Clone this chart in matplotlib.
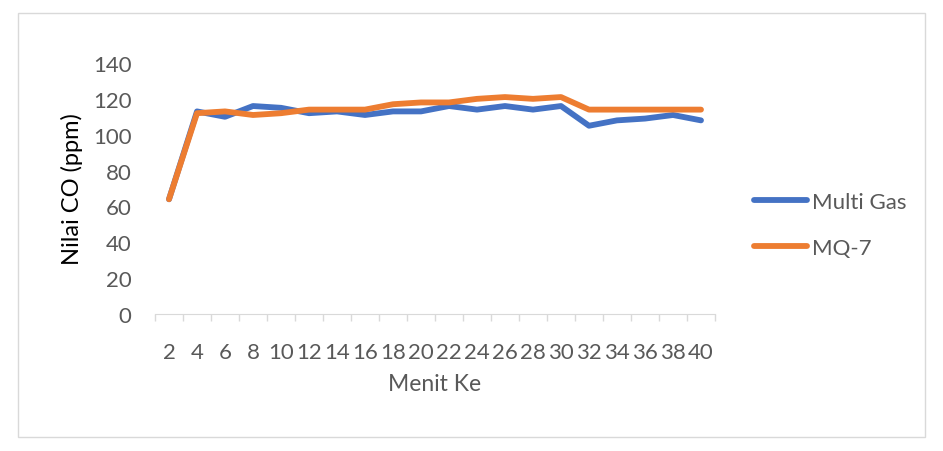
import matplotlib
matplotlib.use("Agg")
import matplotlib.pyplot as plt
from matplotlib.patches import Rectangle
from matplotlib.lines import Line2D
import numpy as np

plt.rcParams['font.family'] = ['Lato', 'DejaVu Sans']

minutes = ["2", "4", "6", "8", "10", "12", "14", "16", "18", "20",
           "22", "24", "26", "28", "30", "32", "34", "36", "38", "40"]
multi_gas = [64, 113, 110, 116, 115, 112, 113, 111, 113, 113,
             116, 114, 116, 114, 116, 105, 108, 109, 111, 108]
mq7 = [64, 112, 113, 111, 112, 114, 114, 114, 117, 118,
       118, 120, 121, 120, 121, 114, 114, 114, 114, 114]
y_ticks = [0, 20, 40, 60, 80, 100, 120, 140]

blue = "#4472C4"
orange = "#ED7D31"
gray_text = "#595959"
lw = 4.2

fig = plt.figure(figsize=(9.43, 4.52), dpi=100)
fig.patches.append(Rectangle((18/943, 14/452), 907/943, 424/452, transform=fig.transFigure,
                             fill=False, edgecolor="#d9d9d9", linewidth=1))

ax = fig.add_axes([155/943, (452-315)/452, 560/943, 251/452])
x = np.arange(len(minutes))
ax.plot(x, multi_gas, color=blue, linewidth=lw, solid_capstyle="round", solid_joinstyle="round")
ax.plot(x, mq7, color=orange, linewidth=lw, solid_capstyle="round", solid_joinstyle="round")

ax.set_xlim(-0.5, len(minutes) - 0.5)
ax.set_ylim(0, 140)
ax.set_yticks(y_ticks)
ax.set_xticks(x)
ax.set_xticklabels(minutes)
ax.set_xticks(np.arange(len(minutes) + 1) - 0.5, minor=True)
ax.tick_params(axis='x', which='major', length=0, pad=20, labelsize=16, labelcolor=gray_text)
ax.tick_params(axis='x', which='minor', length=5, color="#d9d9d9", width=1)
ax.tick_params(axis='y', length=0, pad=17, labelsize=16, labelcolor=gray_text)

for s in ["top", "right", "left"]:
    ax.spines[s].set_visible(False)
ax.spines["bottom"].set_color("#d9d9d9")

ax.set_xlabel("Menit Ke", fontsize=16.5, color=gray_text, labelpad=8)
ax.set_ylabel("Nilai CO (ppm)", fontsize=17, color="black", labelpad=7)

handles = [Line2D([], [], color=blue, linewidth=lw, solid_capstyle="round"),
           Line2D([], [], color=orange, linewidth=lw, solid_capstyle="round")]
fig.legend(handles, ["Multi Gas", "MQ-7"], loc="center left",
           bbox_to_anchor=(734/943, (452-226)/452), frameon=False,
           fontsize=16, labelcolor=gray_text, handlelength=2.4, handletextpad=0.2,
           labelspacing=1.15)

fig.savefig("out.png", dpi=100)
